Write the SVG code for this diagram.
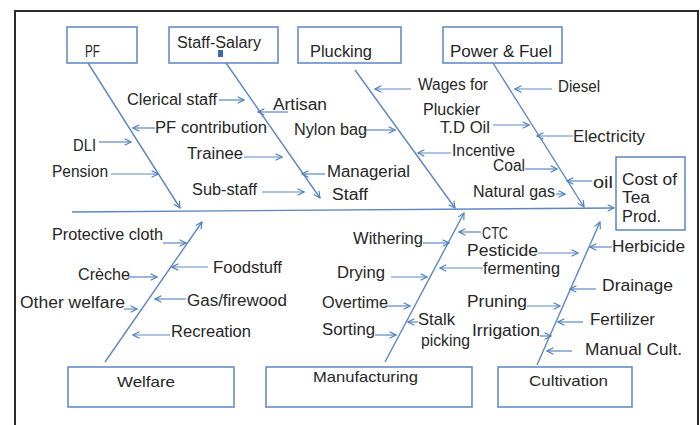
<svg xmlns="http://www.w3.org/2000/svg" width="700" height="425" viewBox="0 0 700 425">
  <defs>
    <marker id="arrow" viewBox="0 0 10 10" refX="9" refY="5" markerWidth="8" markerHeight="8" markerUnits="userSpaceOnUse" orient="auto">
      <path d="M1,1 L9,5 L1,9" fill="none" stroke="#4f7fbf" stroke-width="1.4"/>
    </marker>
    <style>
      .box { fill: #ffffff; stroke: #5a86c5; stroke-width: 1.5; }
      .bone { stroke: #5b87c4; stroke-width: 1.4; fill: none; marker-end: url(#arrow); }
      .cause { stroke: #5b87c4; stroke-width: 1.2; fill: none; marker-end: url(#arrow); }
      text { font-family: "Liberation Sans", Arial, sans-serif; fill: #262626; font-size: 16px; }
      .big { font-size: 17px; }
      .title { font-size: 15px; }
    </style>
  </defs>

  <rect width="700" height="425" fill="#ffffff"/>
  <!-- outer frame -->
  <path d="M15,425 V11 H698 V425" fill="none" stroke="#2a2a2a" stroke-width="2"/>

  <!-- category boxes -->
  <g id="node-pf">
    <rect class="box" x="67" y="27" width="70" height="36"/>
    <text x="85" y="57" textLength="15" lengthAdjust="spacingAndGlyphs">PF</text>
  </g>
  <g id="node-staff-salary">
    <rect class="box" x="169" y="27" width="109" height="36"/>
    <text x="177" y="48" textLength="84" lengthAdjust="spacingAndGlyphs">Staff-Salary</text>
    <rect x="218" y="50" width="5" height="7" fill="#3e6aa8"/>
  </g>
  <g id="node-plucking">
    <rect class="box" x="298" y="27" width="103" height="36"/>
    <text x="310" y="57" textLength="62" lengthAdjust="spacingAndGlyphs">Plucking</text>
  </g>
  <g id="node-power-fuel">
    <rect class="box" x="443" y="27" width="119" height="36"/>
    <text x="450" y="57" textLength="102" lengthAdjust="spacingAndGlyphs">Power &amp; Fuel</text>
  </g>
  <g id="node-cost">
    <rect class="box" x="616" y="157" width="69" height="73"/>
    <text class="big" x="622" y="185" textLength="55" lengthAdjust="spacingAndGlyphs">Cost of</text>
    <text class="big" x="622" y="203" textLength="28" lengthAdjust="spacingAndGlyphs">Tea</text>
    <text class="big" x="622" y="222" textLength="39" lengthAdjust="spacingAndGlyphs">Prod.</text>
  </g>
  <g id="node-welfare">
    <rect class="box" x="68" y="367" width="166" height="40"/>
    <text class="title" x="117" y="387" textLength="58" lengthAdjust="spacingAndGlyphs">Welfare</text>
  </g>
  <g id="node-manufacturing">
    <rect class="box" x="266" y="367" width="206" height="40"/>
    <text class="title" x="313" y="382" textLength="105" lengthAdjust="spacingAndGlyphs">Manufacturing</text>
  </g>
  <g id="node-cultivation">
    <rect class="box" x="498" y="367" width="134" height="40"/>
    <text class="title" x="529" y="386" textLength="79" lengthAdjust="spacingAndGlyphs">Cultivation</text>
  </g>

  <!-- spine and main bones -->
  <g id="connectors">
    <line class="bone" x1="72" y1="212" x2="614" y2="208"/>
    <line class="bone" x1="88" y1="63" x2="180" y2="208"/>
    <line class="bone" x1="226" y1="63" x2="320" y2="198"/>
    <line class="bone" x1="355" y1="70" x2="455" y2="208"/>
    <line class="bone" x1="493" y1="63" x2="584" y2="207"/>
    <line class="bone" x1="105" y1="362" x2="202" y2="222"/>
    <line class="bone" x1="385" y1="362" x2="464" y2="213"/>
    <line class="bone" x1="537" y1="365" x2="600" y2="222"/>

    <!-- cause arrows: upper half -->
    <line class="cause" x1="219" y1="100" x2="244" y2="100"/>
    <line class="cause" x1="155" y1="128" x2="133" y2="128"/>
    <line class="cause" x1="99" y1="142" x2="131" y2="142"/>
    <line class="cause" x1="111" y1="174" x2="158" y2="174"/>
    <line class="cause" x1="244" y1="157" x2="282" y2="157"/>
    <line class="cause" x1="262" y1="192" x2="304" y2="192"/>
    <line class="cause" x1="288" y1="112" x2="258" y2="112"/>
    <line class="cause" x1="364" y1="130" x2="395" y2="130"/>
    <line class="cause" x1="325" y1="174" x2="302" y2="174"/>
    <line class="cause" x1="411" y1="89" x2="375" y2="89"/>
    <line class="cause" x1="493" y1="125" x2="529" y2="125"/>
    <line class="cause" x1="451" y1="153" x2="418" y2="153"/>
    <line class="cause" x1="525" y1="169" x2="557" y2="169"/>
    <line class="cause" x1="556" y1="194" x2="565" y2="194"/>
    <line class="cause" x1="552" y1="89" x2="515" y2="89"/>
    <line class="cause" x1="573" y1="136" x2="537" y2="136"/>
    <line class="cause" x1="592" y1="181" x2="567" y2="181"/>

    <!-- cause arrows: lower half -->
    <line class="cause" x1="163" y1="243" x2="186" y2="243"/>
    <line class="cause" x1="128" y1="277" x2="157" y2="277"/>
    <line class="cause" x1="124" y1="309" x2="137" y2="309"/>
    <line class="cause" x1="208" y1="267" x2="172" y2="267"/>
    <line class="cause" x1="186" y1="299" x2="155" y2="299"/>
    <line class="cause" x1="170" y1="335" x2="133" y2="335"/>
    <line class="cause" x1="423" y1="243" x2="449" y2="243"/>
    <line class="cause" x1="391" y1="277" x2="427" y2="277"/>
    <line class="cause" x1="386" y1="306" x2="410" y2="306"/>
    <line class="cause" x1="375" y1="335" x2="396" y2="335"/>
    <line class="cause" x1="418" y1="322" x2="408" y2="322"/>
    <line class="cause" x1="481" y1="232" x2="459" y2="232"/>
    <line class="cause" x1="538" y1="253" x2="578" y2="253"/>
    <line class="cause" x1="483" y1="268" x2="440" y2="268"/>
    <line class="cause" x1="612" y1="247" x2="590" y2="247"/>
    <line class="cause" x1="596" y1="289" x2="570" y2="289"/>
    <line class="cause" x1="527" y1="306" x2="560" y2="306"/>
    <line class="cause" x1="583" y1="322" x2="558" y2="322"/>
    <line class="cause" x1="540" y1="336" x2="551" y2="336"/>
    <line class="cause" x1="572" y1="351" x2="547" y2="351"/>
  </g>

  <!-- cause labels: upper half -->
  <g id="labels-top">
    <text x="127" y="105" textLength="90" lengthAdjust="spacingAndGlyphs">Clerical staff</text>
    <text x="155" y="133" textLength="112" lengthAdjust="spacingAndGlyphs">PF contribution</text>
    <text x="73" y="151" textLength="23" lengthAdjust="spacingAndGlyphs">DLI</text>
    <text x="52" y="177" textLength="56" lengthAdjust="spacingAndGlyphs">Pension</text>
    <text x="187" y="159" textLength="56" lengthAdjust="spacingAndGlyphs">Trainee</text>
    <text x="192" y="195" textLength="65" lengthAdjust="spacingAndGlyphs">Sub-staff</text>
    <text x="273" y="110" textLength="54" lengthAdjust="spacingAndGlyphs">Artisan</text>
    <text x="294" y="135" textLength="73" lengthAdjust="spacingAndGlyphs">Nylon bag</text>
    <text x="327" y="177" textLength="83" lengthAdjust="spacingAndGlyphs">Managerial</text>
    <text x="332" y="200" textLength="36" lengthAdjust="spacingAndGlyphs">Staff</text>
    <text x="418" y="90" textLength="70" lengthAdjust="spacingAndGlyphs">Wages for</text>
    <text x="423" y="115" textLength="57" lengthAdjust="spacingAndGlyphs">Pluckier</text>
    <text class="big" x="440" y="133" textLength="50" lengthAdjust="spacingAndGlyphs">T.D Oil</text>
    <text x="452" y="156" textLength="63" lengthAdjust="spacingAndGlyphs">Incentive</text>
    <text x="493" y="171" textLength="32" lengthAdjust="spacingAndGlyphs">Coal</text>
    <text x="473" y="197" textLength="82" lengthAdjust="spacingAndGlyphs">Natural gas</text>
    <text x="558" y="92" textLength="42" lengthAdjust="spacingAndGlyphs">Diesel</text>
    <text x="573" y="142" textLength="72" lengthAdjust="spacingAndGlyphs">Electricity</text>
    <text x="593" y="188" textLength="20" lengthAdjust="spacingAndGlyphs">oil</text>
  </g>

  <!-- cause labels: lower half -->
  <g id="labels-bottom">
    <text x="52" y="240" textLength="111" lengthAdjust="spacingAndGlyphs">Protective cloth</text>
    <text x="78" y="280" textLength="52" lengthAdjust="spacingAndGlyphs">Crèche</text>
    <text x="20" y="308" textLength="105" lengthAdjust="spacingAndGlyphs">Other welfare</text>
    <text x="213" y="273" textLength="69" lengthAdjust="spacingAndGlyphs">Foodstuff</text>
    <text x="187" y="306" textLength="100" lengthAdjust="spacingAndGlyphs">Gas/firewood</text>
    <text x="171" y="337" textLength="80" lengthAdjust="spacingAndGlyphs">Recreation</text>
    <text x="353" y="244" textLength="70" lengthAdjust="spacingAndGlyphs">Withering</text>
    <text x="337" y="278" textLength="48" lengthAdjust="spacingAndGlyphs">Drying</text>
    <text x="322" y="308" textLength="66" lengthAdjust="spacingAndGlyphs">Overtime</text>
    <text x="322" y="335" textLength="53" lengthAdjust="spacingAndGlyphs">Sorting</text>
    <text class="big" x="418" y="325" textLength="37" lengthAdjust="spacingAndGlyphs">Stalk</text>
    <text class="big" x="421" y="346" textLength="49" lengthAdjust="spacingAndGlyphs">picking</text>
    <text x="482" y="239" textLength="26" lengthAdjust="spacingAndGlyphs">CTC</text>
    <text class="big" x="467" y="256" textLength="71" lengthAdjust="spacingAndGlyphs">Pesticide</text>
    <text font-size="15" x="483" y="274" textLength="77" lengthAdjust="spacingAndGlyphs">fermenting</text>
    <text class="big" x="612" y="252" textLength="73" lengthAdjust="spacingAndGlyphs">Herbicide</text>
    <text class="big" x="602" y="291" textLength="71" lengthAdjust="spacingAndGlyphs">Drainage</text>
    <text class="big" x="467" y="307" textLength="60" lengthAdjust="spacingAndGlyphs">Pruning</text>
    <text class="big" x="590" y="325" textLength="65" lengthAdjust="spacingAndGlyphs">Fertilizer</text>
    <text class="big" x="472" y="336" textLength="68" lengthAdjust="spacingAndGlyphs">Irrigation</text>
    <text class="big" x="585" y="355" textLength="97" lengthAdjust="spacingAndGlyphs">Manual Cult.</text>
  </g>
</svg>
